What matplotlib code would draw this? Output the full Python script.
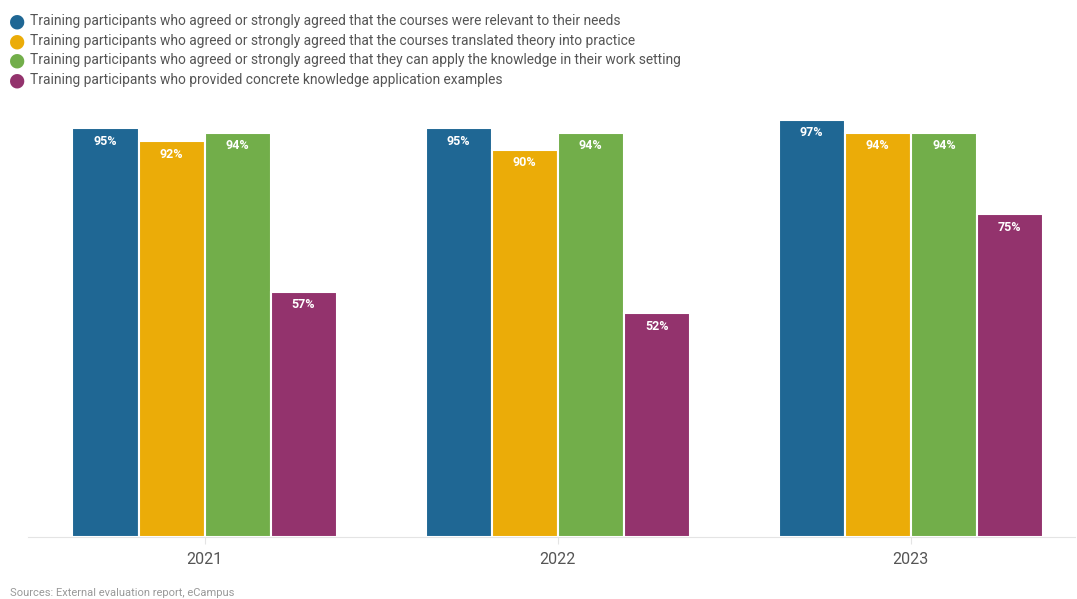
import matplotlib.pyplot as plt
import numpy as np

plt.rcParams['font.family'] = ['Roboto', 'DejaVu Sans']

years = ['2021', '2022', '2023']
series_names = [
    'Training participants who agreed or strongly agreed that the courses were relevant to their needs',
    'Training participants who agreed or strongly agreed that the courses translated theory into practice',
    'Training participants who agreed or strongly agreed that they can apply the knowledge in their work setting',
    'Training participants who provided concrete knowledge application examples',
]
relevant = [95, 95, 97]
theory_practice = [92, 90, 94]
apply_work = [94, 94, 94]
examples = [57, 52, 75]
colors = ['#1f6794', '#ebac08', '#72ae4a', '#93336d']

series = [relevant, theory_practice, apply_work, examples]

fig = plt.figure(figsize=(10.77, 5.99), dpi=100)
ax = fig.add_axes([28 / 1077, 1 - 537 / 599, (1075 - 28) / 1077, (537 - 107) / 599])

x = np.arange(len(years))
width = 0.187
for i, (vals, c) in enumerate(zip(series, colors)):
    pos = x + (i - 1.5) * width
    bars = ax.bar(pos, vals, width=width, color=c, edgecolor='white', linewidth=1.5)
    for b, v in zip(bars, vals):
        ax.text(b.get_x() + b.get_width() / 2, v - 3.0, f'{v}%', ha='center', va='center',
                color='white', fontsize=9, fontweight='bold')

ax.set_xlim(-0.5, 2.465)
ax.set_ylim(0, 100)
ax.set_yticks([])
ax.set_xticks(x)
ax.set_xticklabels(years, fontsize=11.5, color='#555555')
ax.tick_params(axis='x', length=5, color='#e4e4e4', pad=6)
for s in ['top', 'right', 'left']:
    ax.spines[s].set_visible(False)
ax.spines['bottom'].set_color('#e4e4e4')

# legend drawn as circle markers + text rows
for i, (name, c) in enumerate(zip(series_names, colors)):
    yy = 1 - (21 + i * 19.6) / 599
    fig.text(17 / 1077, yy, '\u25CF', color=c, fontsize=13.5, ha='center', va='center',
             family='DejaVu Sans')
    fig.text(30 / 1077, yy, name, color='#555555', fontsize=9.9, ha='left', va='center')

fig.text(10 / 1077, 1 - 593 / 599, 'Sources: External evaluation report, eCampus',
         color='#999999', fontsize=8, ha='left', va='center')

fig.savefig('out.png', dpi=100)
